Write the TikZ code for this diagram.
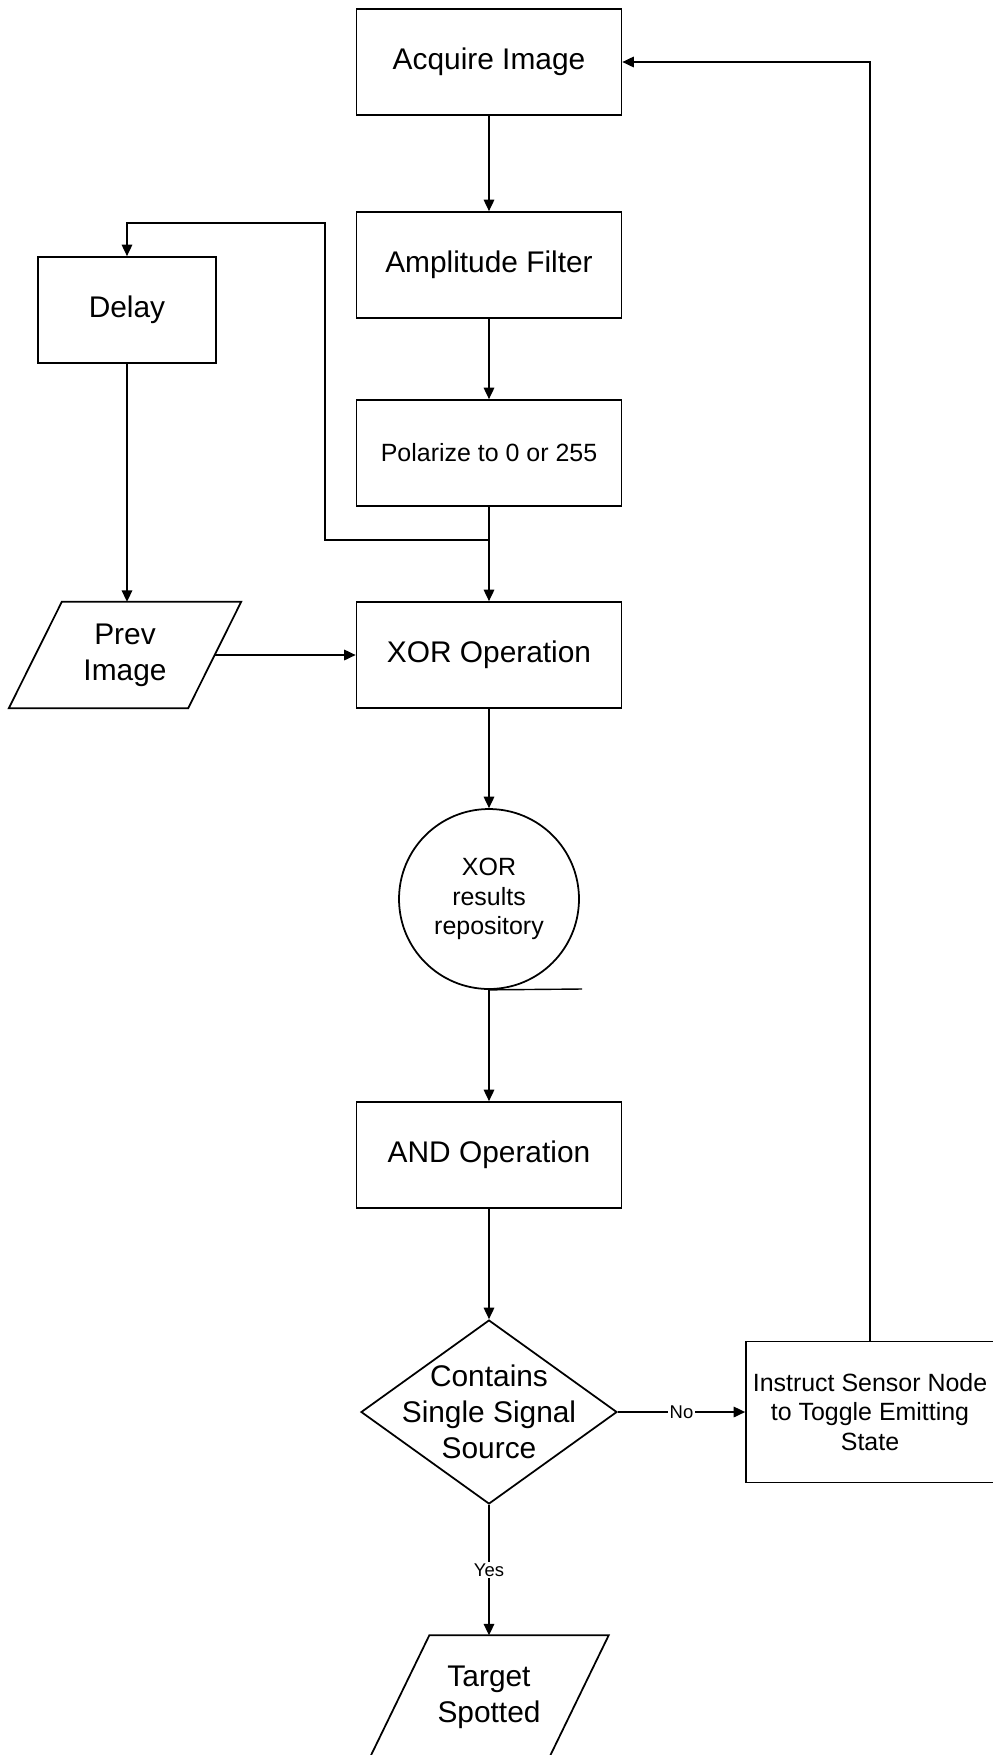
\documentclass[tikz,border=0pt]{standalone}
\usepackage{fontspec}
\setmainfont{Liberation Sans}
\usetikzlibrary{shapes.geometric}
\usetikzlibrary{arrows.meta}

\begin{document}
\begin{tikzpicture}[x=0.02cm, y=-0.02cm, line width=0.8pt,
	>={Triangle[length=6.5pt,width=6pt]},
	procbox/.style={draw, rectangle, line width=1pt, minimum width=5.3cm, minimum height=2.12cm, align=center, font=\fontsize{17}{20.4}\selectfont},
	smallbox/.style={procbox, font=\fontsize{14.2}{17}\selectfont},
	iobox/.style={rectangle, minimum width=3.56cm, minimum height=2.1cm, inner sep=0pt, align=center, font=\fontsize{17}{20.4}\selectfont},
	lbl/.style={fill=white, inner sep=1pt, font=\fontsize{10.5}{12}\selectfont}]
		\useasboundingbox (0,0) rectangle (992,1755);

		%main column
		\node[procbox] (acquire) at (489,62) {Acquire Image};
		\node[procbox] (amp) at (489,265) {Amplitude Filter};
		\node[smallbox] (polar) at (489,453) {Polarize to 0 or 255};
		\node[procbox] (xor) at (489,655) {XOR Operation};
		\node[draw, circle, line width=1pt, minimum size=3.6cm, inner sep=0pt, align=center, font=\fontsize{14.2}{16.6}\selectfont] (repo) at (489,899) {XOR\\results\\repository};
		\node[procbox] (and) at (489,1155) {AND Operation};
		\node[draw, diamond, line width=1pt, minimum width=5.12cm, minimum height=3.68cm, inner sep=0pt,
			label={[align=center, font=\fontsize{17}{20.4}\selectfont]center:Contains\\Single Signal\\Source}] (dec) at (489,1412) {};
		\node[iobox, minimum height=2.44cm] (target) at (489,1697) {Target\\Spotted};

		%side boxes
		\node[procbox, minimum width=3.56cm] (delay) at (127,310) {Delay};
		\node[iobox] (prev) at (125,655) {Prev\\Image};
		\node[smallbox, minimum width=4.96cm, minimum height=2.82cm] (instr) at (870,1412) {Instruct Sensor Node\\to Toggle Emitting\\State};

		%slanted outlines of the data boxes
		\foreach \n/\s in {prev/0.53cm, target/0.6cm}
		\draw[line width=1pt] ([xshift=\s]\n.north west) -- ([xshift=\s]\n.north east) -- ([xshift=-\s]\n.south east) -- ([xshift=-\s]\n.south west) -- cycle;

		%helper points
		\coordinate (split) at (489,540);
		\coordinate (loopa) at (325,540);
		\coordinate (loopb) at (325,223);
		\coordinate (repotail) at (582,989);

		%arrows down the column
		\foreach \a/\b in {acquire/amp, amp/polar, polar/xor, xor/repo, repo/and, and/dec}
		\draw[->] (\a) -- (\b);

		%delay loop
		\draw[->] (split) -- (loopa) -- (loopb) -| (delay.north);
		\draw[->] (delay.south) -- (delay.south |- prev.north);
		\draw[->] (prev.east) -- (xor.west);

		%tail under the repository
		\draw (repo.south) -- (repotail);

		%decision
		\draw[->] (dec.east) -- node[lbl] {No} (instr.west);
		\draw[->] (dec.south) -- node[lbl] {Yes} (dec.south |- target.north);
		\draw[->] (instr.north) |- (acquire.east);
	\end{tikzpicture}
\end{document}
